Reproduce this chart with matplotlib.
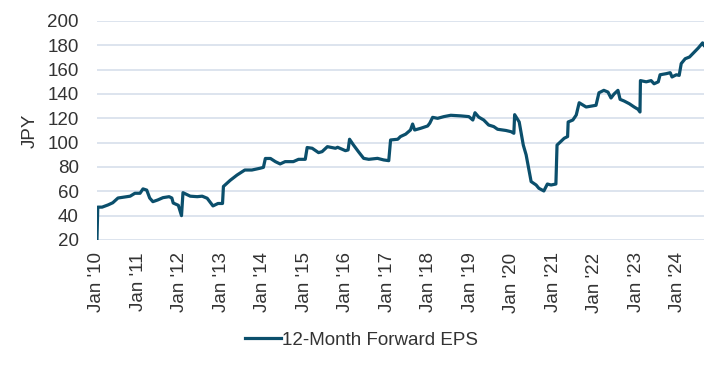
"""12-Month Forward EPS (JPY), Jan 2010 - Aug 2024, as a single line chart."""

import matplotlib.pyplot as plt
import matplotlib.dates as mdates
import numpy as np
import pandas as pd


LINE = "#0b4f6c"
GRID = "#d3dde9"
TEXT = "#333333"

# values
dates = [
    "2010-01-01", "2010-01-08", "2010-02-15", "2010-04-08", "2010-05-20", "2010-07-05",
    "2010-10-20", "2010-12-01", "2011-01-15", "2011-02-10", "2011-03-15", "2011-04-10",
    "2011-05-08", "2011-06-20", "2011-08-05", "2011-09-28", "2011-10-22", "2011-11-03",
    "2011-12-18", "2012-01-15", "2012-01-28", "2012-04-01", "2012-06-01", "2012-07-15",
    "2012-08-28", "2012-10-18", "2012-12-01", "2013-01-10", "2013-01-18", "2013-03-18",
    "2013-05-18", "2013-07-25", "2013-09-25", "2013-12-08", "2014-01-05", "2014-01-22",
    "2014-03-08", "2014-04-20", "2014-06-01", "2014-07-15", "2014-09-25", "2014-11-10",
    "2015-01-08", "2015-01-25", "2015-03-10", "2015-05-05", "2015-06-05", "2015-07-22",
    "2015-10-01", "2015-10-20", "2015-12-28", "2016-01-20", "2016-02-02", "2016-03-08",
    "2016-04-20", "2016-06-05", "2016-07-20", "2016-10-05", "2016-11-28", "2017-01-12",
    "2017-01-28", "2017-04-01", "2017-04-25", "2017-06-10", "2017-07-22", "2017-08-10",
    "2017-08-28", "2017-10-20", "2017-12-20", "2018-01-08", "2018-02-02", "2018-03-18",
    "2018-05-12", "2018-07-12", "2018-10-08", "2018-12-18", "2019-01-22", "2019-02-10",
    "2019-03-15", "2019-04-28", "2019-06-10", "2019-07-25", "2019-08-28", "2019-11-10",
    "2019-12-25", "2020-01-18", "2020-01-25", "2020-03-05", "2020-04-10", "2020-05-05",
    "2020-05-30", "2020-06-18", "2020-08-01", "2020-08-25", "2020-10-08", "2020-11-08",
    "2020-12-10", "2021-01-22", "2021-02-01", "2021-04-05", "2021-05-05", "2021-05-10",
    "2021-06-20", "2021-07-20", "2021-08-15", "2021-10-15", "2022-01-10", "2022-02-05",
    "2022-03-20", "2022-04-25", "2022-05-22", "2022-06-18", "2022-07-22", "2022-08-10",
    "2022-09-15", "2022-10-30", "2022-12-12", "2023-01-15", "2023-02-01", "2023-02-05",
    "2023-03-28", "2023-05-10", "2023-06-05", "2023-07-12", "2023-07-28", "2023-09-20",
    "2023-10-25", "2023-11-10", "2023-12-18", "2024-01-12", "2024-01-30", "2024-03-05",
    "2024-04-12", "2024-05-25", "2024-06-28", "2024-08-05", "2024-08-17",
]
eps = [
    20, 47, 47, 48.8, 50.6, 54.5,
    56, 58.4, 58.4, 62, 61, 54.5,
    51.5, 52.9, 54.8, 55.6, 54.5, 50.4,
    48.5, 40, 58.9, 56, 55.6, 56,
    54.3, 48, 50, 50, 64, 69,
    73.4, 77.5, 77.5, 79, 79.7, 87,
    87, 84.4, 82.5, 84.4, 84.4, 86.3,
    86.3, 96, 95.4, 91.8, 92.6, 96.7,
    95.4, 96.2, 93.4, 94, 102.8, 98,
    92.6, 87.1, 86.3, 87.1, 85.8, 85.2,
    102.2, 102.8, 105, 107, 110.4, 115.3,
    110.4, 111.8, 113.7, 116, 120.8, 120,
    121.4, 122.5, 122, 121.4, 118.6, 124.6,
    121, 118.6, 114.5, 113.2, 111, 110,
    109, 107.7, 123, 117, 98, 90,
    77.5, 68, 65.2, 62.5, 60.3, 66,
    65.2, 66, 98, 103.6, 105, 117,
    118.6, 122.7, 132.8, 129.3, 130.7, 141,
    143, 141.6, 136.7, 140, 143, 135.6,
    134.2, 132, 129.3, 127.4, 125.2, 151,
    150, 151, 148.4, 150, 155.8, 156.7,
    157.5, 154, 155.8, 155.3, 165, 169,
    170.4, 174.5, 177.8, 182, 180,
]
y_ticks = [20, 40, 60, 80, 100, 120, 140, 160, 180, 200]
series_name = "12-Month Forward EPS"
y_label = "JPY"

plt.rcParams.update({
    "font.family": ["Liberation Sans", "DejaVu Sans"],
    "font.size": 13.5,
    "text.color": TEXT,
    "xtick.color": TEXT,
    "ytick.color": TEXT,
    "axes.labelcolor": TEXT,
})

fig = plt.figure(figsize=(7.22, 3.65), dpi=100)
ax = fig.add_axes([0.1343, 0.3425, 0.8407, 0.6])

x = pd.to_datetime(dates)
ax.plot(x, eps, color=LINE, linewidth=2.3, solid_joinstyle="round", label=series_name)

ax.set_ylim(20, 200)
ax.set_yticks(y_ticks)
ax.set_xlim(pd.Timestamp("2010-01-01"), pd.Timestamp(dates[-1]))
ax.xaxis.set_major_locator(mdates.YearLocator())
ax.xaxis.set_major_formatter(mdates.DateFormatter("Jan '%y"))
plt.setp(ax.get_xticklabels(), rotation=90, ha="center", va="top")

ax.tick_params(axis="both", length=0)
ax.tick_params(axis="y", pad=13)
ax.tick_params(axis="x", pad=9)
for s in ax.spines.values():
    s.set_visible(False)
ax.grid(axis="y", color=GRID, linewidth=1.1)
ax.set_axisbelow(True)
ax.set_ylabel(y_label, labelpad=6)

fig.legend(loc="center", bbox_to_anchor=(0.501, 0.068), frameon=False,
           handlelength=1.9, handletextpad=0.1, fontsize=13.5)

fig.savefig("out.png", dpi=100, facecolor="white")
